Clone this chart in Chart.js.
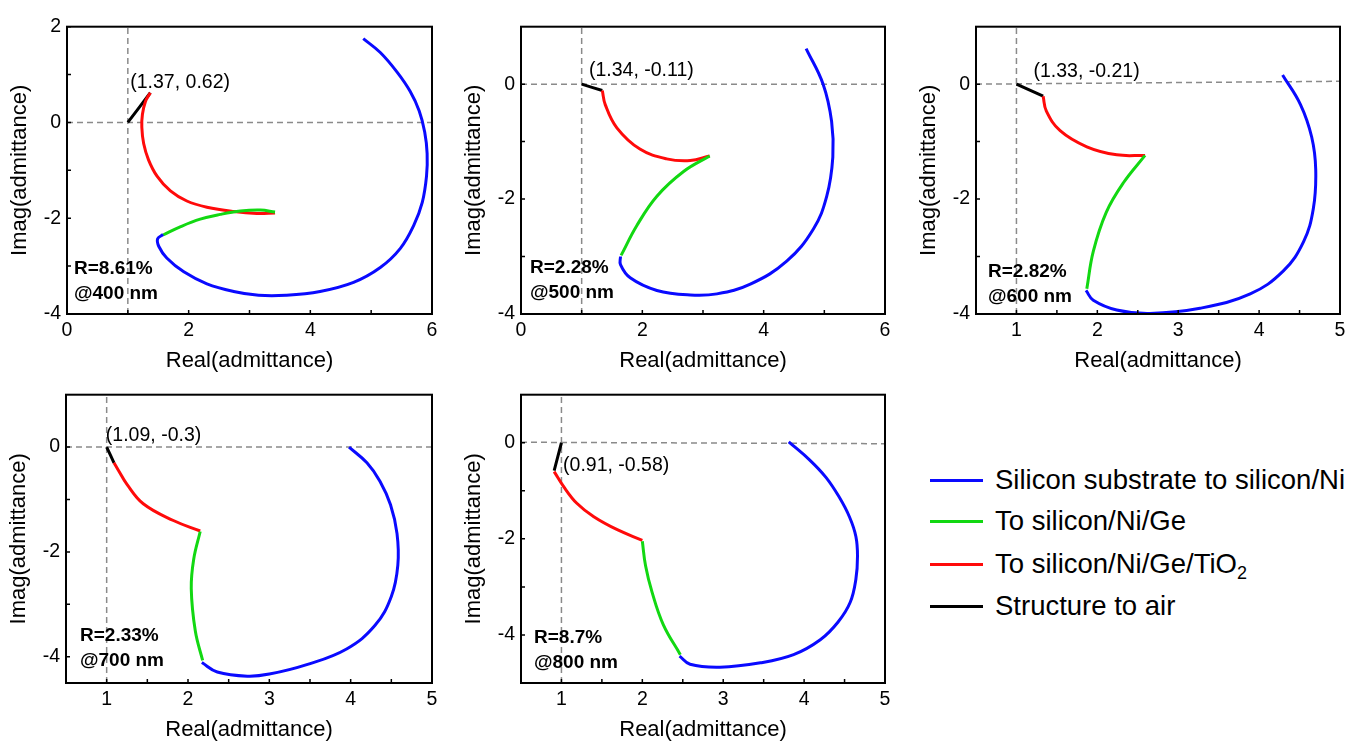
<!DOCTYPE html>
<html>
<head>
<meta charset="utf-8">
<script src="https://cdn.jsdelivr.net/npm/chart.js@4.4.1/dist/chart.umd.min.js"></script>
<style>
  body { margin: 0; background: #fff; width: 1359px; height: 742px; position: relative; overflow: hidden; font-family: "Liberation Sans", Arial, sans-serif; }
  canvas { position: absolute; }
  .leg { position: absolute; left: 930px; height: 30px; white-space: nowrap; font-size: 27.5px; color: #000; }
  .leg .ln { position: absolute; left: 0; top: 14px; width: 53px; height: 3px; }
  .leg .tx { position: absolute; left: 65px; top: 0; line-height: 30px; }
  .leg sub { font-size: 18px; vertical-align: -6px; line-height: 0; }
</style>
</head>
<body>
<canvas id="c400"></canvas>
<canvas id="c500"></canvas>
<canvas id="c600"></canvas>
<canvas id="c700"></canvas>
<canvas id="c800"></canvas>
<div id="legend"></div>
<script>
// series colours and legend text
var seriesColors = ['#0a0aff', '#12d812', '#ff0a0a', '#000000'];
var legendLabels = ['Silicon substrate to silicon/Ni', 'To silicon/Ni/Ge', 'To silicon/Ni/Ge/TiO<sub>2</sub>', 'Structure to air'];

// ---- 400 nm ----
var blue400 = [[4.87,1.75],[5.15,1.46],[5.42,1.06],[5.64,0.65],[5.79,0.24],[5.88,-0.20],[5.92,-0.65],[5.91,-1.12],[5.84,-1.67],[5.70,-2.15],[5.48,-2.63],[5.15,-3.03],[4.71,-3.34],[4.16,-3.53],[3.60,-3.61],[3.15,-3.61],[2.74,-3.53],[2.30,-3.37],[1.92,-3.12],[1.64,-2.83],[1.51,-2.59],[1.49,-2.43],[1.58,-2.34]];
var green400 = [[1.58,-2.35],[1.86,-2.18],[2.19,-2.02],[2.52,-1.92],[2.85,-1.85],[3.18,-1.83],[3.42,-1.87]];
var red400 = [[3.42,-1.89],[3.12,-1.90],[2.74,-1.86],[2.30,-1.77],[1.97,-1.64],[1.70,-1.43],[1.48,-1.12],[1.34,-0.78],[1.26,-0.44],[1.23,-0.10],[1.24,0.17],[1.29,0.44],[1.37,0.62]];
var black400 = [[1.37,0.62],[1,0]];

// ---- 500 nm ----
var blue500 = [[4.70,0.62],[4.98,0],[5.12,-0.65],[5.14,-1.27],[5.04,-1.95],[4.82,-2.52],[4.38,-3.08],[3.78,-3.48],[3.23,-3.65],[2.79,-3.67],[2.24,-3.59],[1.80,-3.37],[1.64,-3.14],[1.64,-3.0]];
var green500 = [[1.65,-2.98],[1.91,-2.46],[2.24,-1.95],[2.68,-1.52],[3.11,-1.25]];
var red500 = [[3.11,-1.25],[2.79,-1.33],[2.40,-1.30],[1.96,-1.13],[1.58,-0.76],[1.39,-0.36],[1.34,-0.11]];
var black500 = [[1.34,-0.11],[1,0]];

// ---- 600 nm ----
var blue600 = [[4.29,0.16],[4.51,-0.35],[4.65,-0.92],[4.70,-1.49],[4.67,-2.17],[4.55,-2.74],[4.30,-3.25],[3.89,-3.65],[3.27,-3.90],[2.65,-3.99],[2.24,-3.93],[1.95,-3.76],[1.86,-3.59]];
var green600 = [[1.87,-3.56],[1.95,-2.91],[2.11,-2.23],[2.32,-1.72],[2.59,-1.24]];
var red600 = [[2.59,-1.24],[2.24,-1.23],[1.87,-1.09],[1.54,-0.81],[1.37,-0.47],[1.33,-0.21]];
var black600 = [[1.33,-0.21],[1,0]];

// ---- 700 nm ----
var blue700 = [[3.98,0],[4.20,-0.30],[4.36,-0.65],[4.49,-1.10],[4.57,-1.65],[4.58,-2.25],[4.50,-2.85],[4.30,-3.40],[3.95,-3.85],[3.46,-4.15],[3.00,-4.33],[2.73,-4.37],[2.36,-4.29],[2.17,-4.11]];
var green700 = [[2.18,-4.07],[2.09,-3.51],[2.04,-2.70],[2.07,-2.14],[2.15,-1.61]];
var red700 = [[2.15,-1.60],[1.82,-1.40],[1.45,-1.08],[1.25,-0.71],[1.14,-0.43],[1.09,-0.30]];
var black700 = [[1.09,-0.30],[1,0]];

// ---- 800 nm ----
var blue800 = [[3.81,0.02],[4.07,-0.36],[4.27,-0.72],[4.43,-1.12],[4.56,-1.54],[4.64,-1.95],[4.66,-2.36],[4.64,-2.84],[4.57,-3.32],[4.42,-3.73],[4.20,-4.10],[3.87,-4.41],[3.46,-4.58],[2.96,-4.67],[2.59,-4.61],[2.46,-4.44]];
var green800 = [[2.47,-4.41],[2.26,-3.79],[2.12,-3.11],[2.04,-2.56],[2.0,-2.05]];
var red800 = [[2.0,-2.03],[1.69,-1.81],[1.40,-1.54],[1.19,-1.26],[1.03,-0.92],[0.91,-0.60]];
var black800 = [[0.91,-0.58],[1,0]];

// reference (dashed) lines
var hLine400 = [[0,0],[6,0]],      vLine400 = [[1,-4],[1,2]];
var hLine500 = [[0,0],[6,0]],      vLine500 = [[1,-4],[1,1]];
var hLine600 = [[0.5,0],[5,0.05]], vLine600 = [[1,-4],[1,1]];
var hLine700 = [[0.5,0],[5,0]],    vLine700 = [[1,-4.5],[1,1]];
var hLine800 = [[0.5,0.01],[5,-0.02]], vLine800 = [[1,-5],[1,1]];

// tick values
var xMajorWide = [0, 2, 4, 6], xMinorWide = [1, 3, 5];
var xMajorNarrow = [1, 2, 3, 4, 5], xMinorNarrow = [1.5, 2.5, 3.5, 4.5];
var yMajor400 = [-4, -2, 0, 2], yMinor400 = [-3, -1, 1];
var yMajorStd = [-4, -2, 0], yMinorStd = [-3, -1];

// text labels
var pointLabels = ['(1.37, 0.62)', '(1.34, -0.11)', '(1.33, -0.21)', '(1.09, -0.3)', '(0.91, -0.58)'];
var reflLabels = ['R=8.61%', 'R=2.28%', 'R=2.82%', 'R=2.33%', 'R=8.7%'];
var waveLabels = ['@400 nm', '@500 nm', '@600 nm', '@700 nm', '@800 nm'];

var FONT = '"Liberation Sans", Arial, sans-serif';

function pts(arr) {
    return arr.map(function (p) { return { x: p[0], y: p[1] }; });
}

// frame, inward ticks and text
var framePlugin = {
    id: 'frame',
    afterDatasetsDraw: function (chart, args, o) {
        var ctx = chart.ctx, a = chart.chartArea, x = chart.scales.x, y = chart.scales.y;
        ctx.save();
        ctx.strokeStyle = '#000';
        ctx.lineWidth = 1.5;
        ctx.beginPath();
        o.xTicks.forEach(function (v) {
            var px = x.getPixelForValue(v);
            ctx.moveTo(px, a.bottom); ctx.lineTo(px, a.bottom - 4);
        });
        o.yTicks.forEach(function (v) {
            var py = y.getPixelForValue(v);
            ctx.moveTo(a.left, py); ctx.lineTo(a.left + 4, py);
        });
        ctx.stroke();
        ctx.lineWidth = 2;
        ctx.strokeRect(a.left, a.top, a.right - a.left, a.bottom - a.top);

        ctx.fillStyle = '#000';
        ctx.textBaseline = 'middle';
        ctx.textAlign = 'left';
        ctx.font = '19.5px ' + FONT;
        ctx.fillText(o.label, x.getPixelForValue(o.labelAt[0]), y.getPixelForValue(o.labelAt[1]));
        ctx.font = 'bold 19px ' + FONT;
        ctx.fillText(o.r, a.left + o.rOff[0], a.bottom - o.rOff[1]);
        ctx.fillText(o.wave, a.left + o.rOff[0], a.bottom - o.rOff[1] + 25);
        ctx.restore();
    }
};

function makePanel(id, box, xr, yr, curves, hLine, vLine, xMajor, xMinor, yMajor, yMinor, idx, labelAt, rOff) {
    var AX = 60, PT = 12, PR = 12;
    var cv = document.getElementById(id);
    cv.width = AX + box.w + PR;
    cv.height = PT + box.h + AX;
    cv.style.left = (box.left - AX) + 'px';
    cv.style.top = (box.top - PT) + 'px';

    var datasets = [];
    curves.forEach(function (c, i) {
        datasets.push({
            data: pts(c), borderColor: seriesColors[i], borderWidth: 3,
            showLine: true, pointRadius: 0, tension: 0.4, order: 1,
            borderCapStyle: 'butt', borderJoinStyle: 'round'
        });
    });
    [hLine, vLine].forEach(function (l) {
        datasets.push({
            data: pts(l), borderColor: '#8a8a8a', borderWidth: 1.5, borderDash: [6, 4],
            showLine: true, pointRadius: 0, order: 10
        });
    });

    var tickFont = { size: 19.5, family: FONT };
    var titleFont = { size: 22, family: FONT };

    new Chart(cv.getContext('2d'), {
        type: 'scatter',
        data: { datasets: datasets },
        options: {
            responsive: false,
            animation: false,
            layout: { padding: { top: PT, right: PR, left: 0, bottom: 0 } },
            plugins: {
                legend: { display: false },
                tooltip: { enabled: false },
                frame: {
                    xTicks: xMajor.concat(xMinor), yTicks: yMajor.concat(yMinor),
                    label: pointLabels[idx], labelAt: labelAt,
                    r: reflLabels[idx], wave: waveLabels[idx], rOff: rOff
                }
            },
            scales: {
                x: {
                    type: 'linear', min: xr[0], max: xr[1],
                    afterBuildTicks: function (s) { s.ticks = xMajor.map(function (v) { return { value: v }; }); },
                    afterFit: function (s) { s.height = AX; },
                    grid: { display: false, drawTicks: false },
                    border: { display: false },
                    ticks: { padding: 5, color: '#000', font: tickFont, maxRotation: 0 },
                    title: { display: true, text: 'Real(admittance)', color: '#000', font: titleFont, padding: 0 }
                },
                y: {
                    type: 'linear', min: yr[0], max: yr[1],
                    afterBuildTicks: function (s) { s.ticks = yMajor.map(function (v) { return { value: v }; }); },
                    afterFit: function (s) { s.width = AX; },
                    grid: { display: false, drawTicks: false },
                    border: { display: false },
                    ticks: { padding: 6, color: '#000', font: tickFont },
                    title: { display: true, text: 'Imag(admittance)', color: '#000', font: titleFont, padding: 0 }
                }
            }
        },
        plugins: [framePlugin]
    });
}

makePanel('c400', { left: 67, top: 21, w: 365, h: 293 }, [0, 6], [-4, 2],
    [blue400, green400, red400, black400], hLine400, vLine400,
    xMajorWide, xMinorWide, yMajor400, yMinor400, 0, [1.04, 0.84], [7, 45]);
makePanel('c500', { left: 521, top: 21, w: 364, h: 293 }, [0, 6], [-4, 1],
    [blue500, green500, red500, black500], hLine500, vLine500,
    xMajorWide, xMinorWide, yMajorStd, yMinorStd, 1, [1.12, 0.23], [9, 46]);
makePanel('c600', { left: 976, top: 21, w: 364, h: 293 }, [0.5, 5], [-4, 1],
    [blue600, green600, red600, black600], hLine600, vLine600,
    xMajorNarrow, xMinorNarrow, yMajorStd, yMinorStd, 2, [1.21, 0.21], [12, 42]);
makePanel('c700', { left: 66, top: 389, w: 366, h: 294 }, [0.5, 5], [-4.5, 1],
    [blue700, green700, red700, black700], hLine700, vLine700,
    xMajorNarrow, xMinorNarrow, yMajorStd, yMinorStd, 3, [0.99, 0.22], [14, 47]);
makePanel('c800', { left: 521, top: 389, w: 364, h: 294 }, [0.5, 5], [-5, 1],
    [blue800, green800, red800, black800], hLine800, vLine800,
    xMajorNarrow, xMinorNarrow, yMajorStd, yMinorStd, 4, [1.02, -0.47], [13, 45]);

// legend shared by all panels
var legendTops = [465, 506, 549, 591];
var html = '';
legendLabels.forEach(function (t, i) {
    html += '<div class="leg" style="top:' + legendTops[i] + 'px"><div class="ln" style="background:' + seriesColors[i] + '"></div><div class="tx">' + t + '</div></div>';
});
document.getElementById('legend').innerHTML = html;
</script>
</body>
</html>
